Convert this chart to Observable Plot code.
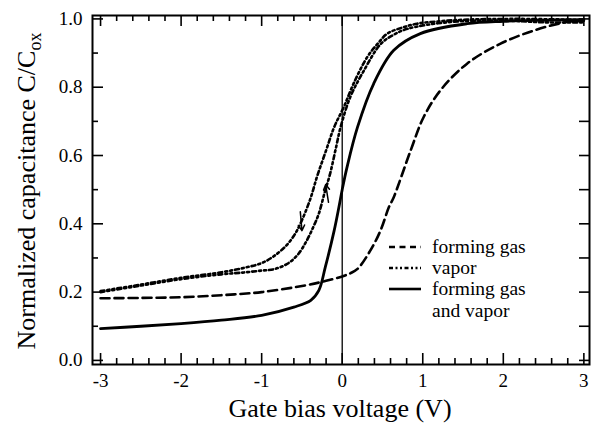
<!DOCTYPE html>
<html>
<head>
<meta charset="utf-8">
<script src="https://cdn.jsdelivr.net/npm/d3@7"></script>
<script src="https://cdn.jsdelivr.net/npm/@observablehq/plot@0.6"></script>
<style>
  body { margin: 0; background: #fff; }
  #chart { position: relative; width: 591px; height: 435px; }
</style>
</head>
<body>
<div id="chart"></div>
<script>
// ---------- data ----------
const formingGasV = [-3, -2.5, -2, -1.5, -1, -0.45, -0.2, 0, 0.1, 0.19, 0.35, 0.475, 0.58, 0.64, 0.85, 1.01, 1.22, 1.55, 1.96, 2.38, 2.79, 3.0];
const formingGasC = [0.182, 0.183, 0.185, 0.191, 0.2, 0.22, 0.233, 0.246, 0.255, 0.268, 0.322, 0.38, 0.449, 0.478, 0.615, 0.712, 0.791, 0.869, 0.927, 0.966, 0.991, 0.995];

const vaporDownV = [-3, -2.5, -2, -1.5, -1.2, -1.0, -0.85, -0.7, -0.6, -0.52, -0.4, -0.31, -0.2, -0.1, 0.02, 0.14, 0.31, 0.45, 0.56, 0.75, 0.93, 1.2, 1.55, 2.2, 3.0];
const vaporDownC = [0.203, 0.222, 0.242, 0.258, 0.272, 0.285, 0.305, 0.335, 0.365, 0.40, 0.47, 0.54, 0.615, 0.683, 0.742, 0.81, 0.888, 0.93, 0.957, 0.975, 0.986, 0.993, 0.998, 1.0, 0.997];

const vaporUpV = [-3, -2.5, -2, -1.5, -1.2, -1.0, -0.85, -0.68, -0.55, -0.44, -0.36, -0.29, -0.22, -0.15, -0.08, -0.02, 0.1, 0.27, 0.48, 0.65, 0.81, 1.34, 2.0, 2.5, 3.0];
const vaporUpC = [0.2, 0.219, 0.238, 0.252, 0.258, 0.263, 0.267, 0.283, 0.31, 0.351, 0.39, 0.43, 0.49, 0.547, 0.62, 0.683, 0.771, 0.849, 0.927, 0.955, 0.971, 0.991, 0.995, 0.99, 0.99];

const bothV = [-3, -2.5, -2, -1.5, -1, -0.6, -0.39, -0.29, -0.21, -0.1, -0.04, 0.0, 0.06, 0.19, 0.39, 0.64, 0.97, 1.55, 2.0, 2.5, 3.0];
const bothC = [0.093, 0.1, 0.108, 0.118, 0.132, 0.156, 0.176, 0.205, 0.273, 0.38, 0.45, 0.5, 0.566, 0.683, 0.81, 0.908, 0.957, 0.986, 0.993, 0.996, 0.998];

// sweep-direction arrows on the vapor loop (tail -> tip)
const arrowX1 = [-0.52, -0.17];
const arrowY1 = [0.435, 0.463];
const arrowX2 = [-0.50, -0.205];
const arrowY2 = [0.38, 0.515];

const xTickValues = [-3, -2, -1, 0, 1, 2, 3];
const yTickValues = [0.0, 0.2, 0.4, 0.6, 0.8, 1.0];

const xTitle = "Gate bias voltage (V)";
const yTitleMain = "Normalized capacitance C/C";
const yTitleSub = "ox";
const legendLabels = [["forming gas"], ["vapor"], ["forming gas", "and vapor"]];

// ---------- layout ----------
const W = 591, H = 435;
const mL = 92, mR = 2, mT = 15, mB = 71;
const xDom = [-3.1, 3.07], yDom = [-0.012, 1.01];
const unitX = (xDom[1] - xDom[0]) / (W - mL - mR); // data per px
const unitY = (yDom[1] - yDom[0]) / (H - mT - mB);
const FONT = "'Liberation Serif', 'Times New Roman', serif";

const toRows = (V, C) => V.map((v, i) => ({v, c: C[i]}));
const fg = toRows(formingGasV, formingGasC);
const vd = toRows(vaporDownV, vaporDownC);
const vu = toRows(vaporUpV, vaporUpC);
const bo = toRows(bothV, bothC);
const arrows = arrowX1.map((x, i) => ({x1: x, y1: arrowY1[i], x2: arrowX2[i], y2: arrowY2[i]}));

const xMinor = d3.range(-3, 3.001, 0.2).map(d => +d.toFixed(1)).filter(d => !xTickValues.includes(d));
const yMinor = d3.range(0.1, 1.0, 0.2).map(d => +d.toFixed(1));
const yAll = d3.range(0, 1.001, 0.1).map(d => +d.toFixed(1));

const majLen = 11, minLen = 6, rightLen = 10;

const dashFG = "9,5";
const dashVap = "4,3,2,3,2,3";

const plot = Plot.plot({
  width: W, height: H,
  marginLeft: mL, marginRight: mR, marginTop: mT, marginBottom: mB,
  x: {domain: xDom, label: null},
  y: {domain: yDom, label: null},
  style: {fontFamily: FONT, background: "#fff", color: "#000"},
  marks: [
    // tick labels
    Plot.axisX({ticks: xTickValues, tickSize: 0, tickPadding: 9, fontSize: 19, tickFormat: d => String(d)}),
    Plot.axisY({ticks: yTickValues, tickSize: 0, tickPadding: 10, fontSize: 19, tickFormat: d => d.toFixed(1)}),
    // inward tick marks: bottom & top
    Plot.ruleX(xTickValues, {x: d => d, y1: yDom[0], y2: yDom[0] + majLen * unitY, stroke: "#000", strokeWidth: 1.6}),
    Plot.ruleX(xMinor, {x: d => d, y1: yDom[0], y2: yDom[0] + minLen * unitY, stroke: "#000", strokeWidth: 1.6}),
    Plot.ruleX(xTickValues, {x: d => d, y1: yDom[1], y2: yDom[1] - majLen * unitY, stroke: "#000", strokeWidth: 1.6}),
    Plot.ruleX(xMinor, {x: d => d, y1: yDom[1], y2: yDom[1] - minLen * unitY, stroke: "#000", strokeWidth: 1.6}),
    // left & right
    Plot.ruleY(yTickValues, {y: d => d, x1: xDom[0], x2: xDom[0] + majLen * unitX, stroke: "#000", strokeWidth: 1.6}),
    Plot.ruleY(yMinor, {y: d => d, x1: xDom[0], x2: xDom[0] + minLen * unitX, stroke: "#000", strokeWidth: 1.6}),
    Plot.ruleY(yAll, {y: d => d, x1: xDom[1], x2: xDom[1] - rightLen * unitX, stroke: "#000", strokeWidth: 1.6}),
    // zero-bias line
    Plot.ruleX([0], {stroke: "#000", strokeWidth: 1.3}),
    // curves
    Plot.line(fg, {x: "v", y: "c", curve: "catmull-rom", stroke: "#000", strokeWidth: 2.6, strokeDasharray: dashFG}),
    Plot.line(vd, {x: "v", y: "c", curve: "catmull-rom", stroke: "#000", strokeWidth: 2.6, strokeDasharray: dashVap}),
    Plot.line(vu, {x: "v", y: "c", curve: "catmull-rom", stroke: "#000", strokeWidth: 2.6, strokeDasharray: dashVap}),
    Plot.line(bo, {x: "v", y: "c", curve: "catmull-rom", stroke: "#000", strokeWidth: 2.8}),
    Plot.arrow(arrows, {x1: "x1", y1: "y1", x2: "x2", y2: "y2", stroke: "#000", strokeWidth: 1.5, headLength: 7}),
    Plot.frame({stroke: "#000", strokeWidth: 2})
  ]
});

document.getElementById("chart").appendChild(plot);

// ---------- titles & legend (appended into the SVG) ----------
const svg = d3.select(plot);
svg.append("text")
  .attr("x", 340).attr("y", 417)
  .attr("text-anchor", "middle")
  .attr("font-family", FONT).attr("font-size", 26).attr("fill", "#000")
  .text(xTitle);

const yt = svg.append("text")
  .attr("transform", "translate(35,191) rotate(-90)")
  .attr("text-anchor", "middle")
  .attr("font-family", FONT).attr("font-size", 26).attr("fill", "#000");
yt.append("tspan").text(yTitleMain);
yt.append("tspan").attr("font-size", 18).attr("dy", 6).text(yTitleSub);

const lg = svg.append("g").attr("font-family", FONT).attr("font-size", 19.5).attr("fill", "#000")
  .attr("text-anchor", "start");
const sampleStyles = [
  {dash: "6,4.5", w: 2.4},
  {dash: "4,2.5,2,2.5,2,2.5", w: 2.4},
  {dash: null, w: 2.6}
];
const rowY = [247, 268, 289];
legendLabels.forEach((lines, i) => {
  const y = rowY[i];
  const l = lg.append("line").attr("x1", 389).attr("x2", 421).attr("y1", y).attr("y2", y)
    .attr("stroke", "#000").attr("stroke-width", sampleStyles[i].w);
  if (sampleStyles[i].dash) l.attr("stroke-dasharray", sampleStyles[i].dash);
  lines.forEach((t, j) => {
    lg.append("text").attr("x", 432).attr("y", y + 6 + j * 22).attr("text-anchor", "start").text(t);
  });
});
</script>
</body>
</html>
